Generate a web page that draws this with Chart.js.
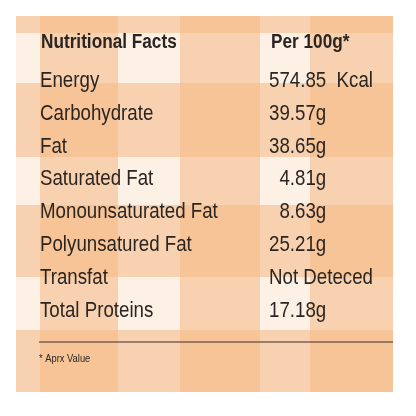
<!DOCTYPE html>
<html><head><meta charset="utf-8">
<script src="https://cdn.jsdelivr.net/npm/chart.js@4"></script>
<style>html,body{margin:0;padding:0;background:#fff}#w{width:416px;height:416px}</style>
</head><body><div id="w"><canvas id="c"></canvas></div>
<script>
const nutrients = ["Energy","Carbohydrate","Fat","Saturated Fat","Monounsaturated Fat","Polyunsatured Fat","Transfat","Total Proteins"];
const amounts = ["574.85  Kcal","39.57g","38.65g","  4.81g","  8.63g","25.21g","Not Deteced","17.18g"];
const header = ["Nutritional Facts","Per 100g*"];
const footnote = "* Aprx Value";
const hBands = [[16,33],[83,157],[205,277],[330,392]];
const vBands = [[40,118],[180,260],[310,393]];

const bg = {
  id:'bg',
  beforeDatasetsDraw(ch){
    const {ctx, scales:{x,y}} = ch;
    const X=v=>x.getPixelForValue(v), Y=v=>y.getPixelForValue(v);
    ctx.save();
    ctx.fillStyle='#fdf1e6'; ctx.fillRect(X(16),Y(16),X(393)-X(16),Y(392)-Y(16));
    ctx.fillStyle='rgba(244,184,132,0.55)';
    hBands.forEach(b=>ctx.fillRect(X(16),Y(b[0]),X(393)-X(16),Y(b[1])-Y(b[0])));
    vBands.forEach(b=>ctx.fillRect(X(b[0]),Y(16),X(b[1])-X(b[0]),Y(392)-Y(16)));
    ctx.restore();
  },
  afterDraw(ch){
    const {ctx, scales:{x,y}} = ch;
    const X=v=>x.getPixelForValue(v), Y=v=>y.getPixelForValue(v);
    ctx.save();
    ctx.fillStyle='#2b2521'; ctx.textBaseline='alphabetic';
    const txt=(s,px,py,font,sx)=>{ctx.save();ctx.font=font;ctx.translate(px,py);ctx.scale(sx,1);ctx.fillText(s,0,0);ctx.restore();};
    txt(header[0],X(41),Y(48),'bold 20px "Liberation Sans"',0.86);
    txt(header[1],X(271),Y(48),'bold 20px "Liberation Sans"',0.86);
    nutrients.forEach((n,i)=>{
      const by=Y(87+i*32.8);
      txt(n,X(40),by,'22px "Liberation Sans"',0.85);
      txt(amounts[i],X(269),by,'22px "Liberation Sans"',0.85);
    });
    ctx.strokeStyle='#3a2f28'; ctx.lineWidth=1.2;
    ctx.beginPath(); ctx.moveTo(X(39),Y(342)); ctx.lineTo(X(393),Y(342)); ctx.stroke();
    txt(footnote,X(39),Y(362),'11px "Liberation Sans"',0.85);
    ctx.restore();
  }
};

new Chart(document.getElementById('c'),{
  type:'bar',
  data:{labels:nutrients,datasets:[{data:[],backgroundColor:'transparent'}]},
  options:{responsive:true,maintainAspectRatio:false,animation:false,
    layout:{padding:0},
    plugins:{legend:{display:false},tooltip:{enabled:false}},
    scales:{
      x:{type:'linear',min:0,max:416,display:false,offset:false},
      y:{type:'linear',min:0,max:416,reverse:true,display:false,offset:false}
    }},
  plugins:[bg]
});
</script></body></html>
